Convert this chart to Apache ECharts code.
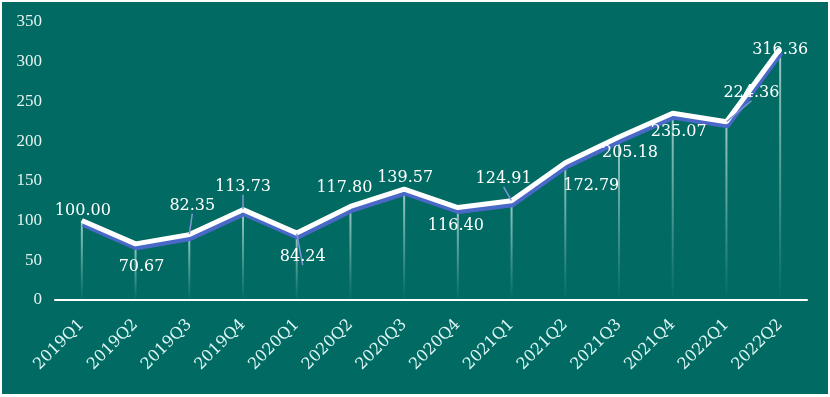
<!DOCTYPE html>
<html>
<head>
<meta charset="utf-8">
<script src="https://cdn.jsdelivr.net/npm/echarts@6/dist/echarts.min.js"></script>
<style>
  html, body { margin: 0; padding: 0; background: #fff; }
  #main { position: absolute; left: 2px; top: 2px; width: 826px; height: 392px; background: #016b63; }
</style>
</head>
<body>
<div id="main"></div>
<script>
var quarters = ['2019Q1', '2019Q2', '2019Q3', '2019Q4', '2020Q1', '2020Q2', '2020Q3',
    '2020Q4', '2021Q1', '2021Q2', '2021Q3', '2021Q4', '2022Q1', '2022Q2'];
var indexValues = [100.00, 70.67, 82.35, 113.73, 84.24, 117.80, 139.57,
    116.40, 124.91, 172.79, 205.18, 235.07, 224.36, 316.36];
// label offsets (px) from each point, like the moved labels in the original
var labelOffsets = [[1, -10], [6, 23], [3, -29], [0, -23], [6, 24], [-6, -19], [1, -11],
    [-2, 18], [-8, -22], [26, 23], [11, 16], [6, 19], [25, -29], [0, 1]];
var withLeader = [false, false, true, true, true, false, false, false, true, false, false, false, true, false];

var myChart = echarts.init(document.getElementById('main'));

var lineData = indexValues.map(function (v, i) {
    return {
        value: v,
        label: { offset: labelOffsets[i] },
        labelLine: { show: withLeader[i] }
    };
});

var option = {
    backgroundColor: '#016b63',
    animation: false,
    grid: {
        left: 53,
        right: 21,
        top: 20,
        bottom: 94
    },
    xAxis: {
        type: 'category',
        data: quarters,
        boundaryGap: true,
        axisLine: {
            show: true,
            lineStyle: { color: '#ffffff', width: 2 }
        },
        axisTick: { show: false },
        axisLabel: {
            rotate: 45,
            margin: 22,
            color: '#dcf6f4',
            fontFamily: 'DejaVu Serif',
            fontSize: 16
        }
    },
    yAxis: {
        type: 'value',
        min: 0,
        max: 350,
        interval: 50,
        axisLine: { show: false },
        axisTick: { show: false },
        splitLine: { show: false },
        axisLabel: {
            margin: 13,
            color: '#e6f2ef',
            fontFamily: 'Liberation Serif',
            fontSize: 17
        }
    },
    series: [{
        // 垂直引线
        type: 'bar',
        data: indexValues,
        barWidth: 2,
        z: 1,
        itemStyle: {
            color: new echarts.graphic.LinearGradient(0, 0, 0, 1, [
                { offset: 0, color: 'rgba(210,235,232,0.75)' },
                { offset: 1, color: 'rgba(210,235,232,0)' }
            ])
        },
        silent: true
    }, {
        type: 'line',
        data: lineData,
        z: 3,
        showSymbol: true,
        symbol: 'circle',
        symbolSize: 1,
        itemStyle: { color: 'rgba(0,0,0,0)' },
        lineStyle: {
            color: '#ffffff',
            width: 5,
            shadowColor: '#4a68c8',
            shadowBlur: 0,
            shadowOffsetX: 1,
            shadowOffsetY: 4
        },
        label: {
            show: true,
            position: 'inside',
            color: '#ffffff',
            fontFamily: 'DejaVu Serif',
            fontSize: 16,
            formatter: function (p) { return p.value.toFixed(2); }
        },
        labelLine: {
            show: false,
            lineStyle: { color: '#7f95d6', width: 1.5 }
        }
    }]
};

myChart.setOption(option);
</script>
</body>
</html>
